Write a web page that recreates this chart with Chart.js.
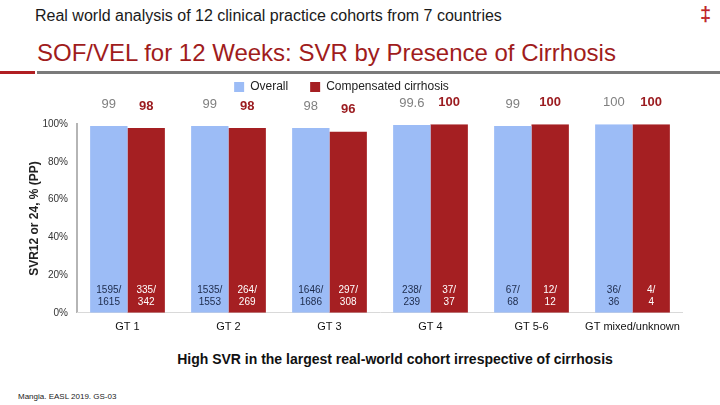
<!DOCTYPE html>
<html>
<head>
<meta charset="utf-8">
<script src="https://cdn.jsdelivr.net/npm/chart.js@4"></script>
<style>
    body { margin: 0; width: 720px; height: 405px; background: #fff; position: relative; overflow: hidden; font-family: "Liberation Sans", Arial, sans-serif; }
    .txt { position: absolute; white-space: nowrap; }
    #sub { left: 35px; top: 7px; font-size: 16px; color: #1a1a1a; }
    #title { left: 37px; top: 39px; font-size: 24px; color: #a01c1c; }
    #dagger { left: 700px; top: 3px; font-size: 20px; color: #c0262a; font-weight: bold; }
    #rule-red { position: absolute; left: 0; top: 71px; width: 35px; height: 3px; background: #b01e22; }
    #rule-grey { position: absolute; left: 37px; top: 71px; width: 683px; height: 3px; background: #7a7a7a; }
    #note { left: 0; width: 790px; text-align: center; top: 351px; font-size: 14px; font-weight: bold; color: #111; }
    #ref { left: 18px; top: 392px; font-size: 8px; color: #222; }
    #wrap { position: absolute; left: 0; top: 59px; width: 683px; height: 275px; }
</style>
</head>
<body>
<div class="txt" id="sub">Real world analysis of 12 clinical practice cohorts from 7 countries</div>
<div class="txt" id="title">SOF/VEL for 12 Weeks: SVR by Presence of Cirrhosis</div>
<div class="txt" id="dagger">‡</div>
<div id="rule-red"></div>
<div id="rule-grey"></div>
<div id="wrap"><canvas id="svr-chart"></canvas></div>
<div class="txt" id="note">High SVR in the largest real-world cohort irrespective of cirrhosis</div>
<div class="txt" id="ref">Mangia. EASL 2019. GS-03</div>

<script>
// chart data
const categories = ['GT 1', 'GT 2', 'GT 3', 'GT 4', 'GT 5-6', 'GT mixed/unknown'];
const overallSvr = [99, 99, 98, 99.6, 99, 100];
const cirrhosisSvr = [98, 98, 96, 100, 100, 100];
const overallCounts = [['1595/', '1615'], ['1535/', '1553'], ['1646/', '1686'], ['238/', '239'], ['67/', '68'], ['36/', '36']];
const cirrhosisCounts = [['335/', '342'], ['264/', '269'], ['297/', '308'], ['37/', '37'], ['12/', '12'], ['4/', '4']];
const yTicks = [0, 20, 40, 60, 80, 100];

const FONT = '"Liberation Sans", Arial, sans-serif';

// value labels above bars + n/N inside bars
const barLabels = {
    id: 'barLabels',
    afterDatasetsDraw(chart) {
        const ctx = chart.ctx;
        const bottom = chart.chartArea.bottom;
        ctx.save();
        ctx.textAlign = 'center';
        ctx.textBaseline = 'middle';
        chart.data.datasets.forEach((ds, di) => {
            const meta = chart.getDatasetMeta(di);
            meta.data.forEach((bar, i) => {
                ctx.font = (di === 0 ? '' : 'bold ') + '13px ' + FONT;
                ctx.fillStyle = di === 0 ? '#808080' : '#9b1c20';
                ctx.fillText(String(ds.data[i]), bar.x, bar.y - 22);

                const lines = ds.counts[i];
                ctx.font = '10px ' + FONT;
                ctx.fillStyle = di === 0 ? '#1c2a4a' : '#ffffff';
                ctx.fillText(lines[0], bar.x, bottom - 23);
                ctx.fillText(lines[1], bar.x, bottom - 11);
            });
        });
        ctx.restore();
    }
};

new Chart(document.getElementById('svr-chart'), {
    type: 'bar',
    data: {
        labels: categories,
        datasets: [{
            label: 'Overall',
            data: overallSvr,
            counts: overallCounts,
            backgroundColor: '#9cbcf6',
            categoryPercentage: 0.74,
            barPercentage: 1.0
        }, {
            label: 'Compensated cirrhosis',
            data: cirrhosisSvr,
            counts: cirrhosisCounts,
            backgroundColor: '#a51f22',
            categoryPercentage: 0.74,
            barPercentage: 1.0
        }]
    },
    options: {
        responsive: true,
        maintainAspectRatio: false,
        animation: false,
        layout: { padding: 0 },
        plugins: {
            legend: {
                labels: {
                    boxWidth: 10,
                    boxHeight: 10,
                    padding: 22,
                    color: '#222',
                    font: { family: FONT, size: 12 }
                }
            },
            // empty title used as a spacer between legend and bars
            title: {
                display: true,
                text: ' ',
                weight: 500,
                padding: 10,
                font: { size: 1 }
            },
            tooltip: { enabled: false }
        },
        scales: {
            y: {
                min: 0,
                max: 100,
                afterBuildTicks(scale) {
                    scale.ticks = yTicks.map(v => ({ value: v }));
                },
                afterFit(scale) { scale.width = 77; },
                grid: { display: false },
                border: { color: '#b5b5b5', width: 2 },
                ticks: {
                    color: '#333',
                    padding: 1,
                    font: { family: FONT, size: 10 },
                    callback: v => v + '%'
                },
                title: {
                    display: true,
                    text: 'SVR12 or 24, % (PP)',
                    color: '#222',
                    padding: { top: 27, bottom: 0 },
                    font: { family: FONT, size: 12, weight: 'bold' }
                }
            },
            x: {
                grid: { display: false },
                border: { color: '#d9d9d9', width: 1 },
                ticks: {
                    color: '#111',
                    padding: 0,
                    font: { family: FONT, size: 11 }
                }
            }
        }
    },
    plugins: [barLabels]
});
</script>
</body>
</html>
